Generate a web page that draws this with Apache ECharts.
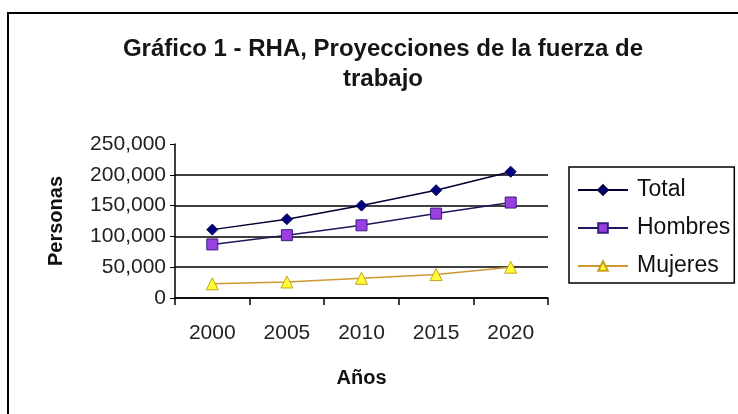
<!DOCTYPE html>
<html>
<head>
<meta charset="utf-8">
<script src="https://cdn.jsdelivr.net/npm/echarts@6/dist/echarts.min.js"></script>
<style>html,body{margin:0;padding:0;background:#fff}#c{width:738px;height:414px}</style>
</head>
<body>
<div id="c"></div>
<script>
const categories = ['2000', '2005', '2010', '2015', '2020'];
const total = [111000, 128000, 150000, 175000, 205000];
const hombres = [87000, 102000, 118000, 137000, 155000];
const mujeres = [23000, 26000, 32000, 38000, 50000];
const yTicks = [0, 50000, 100000, 150000, 200000, 250000];

const fontFam = '"Liberation Sans", Arial, sans-serif';
const chart = echarts.init(document.getElementById('c'));
chart.setOption({
  backgroundColor: '#fff',
  animation: false,
  graphic: [{
    type: 'rect', shape: {x: 8, y: 13, width: 740, height: 420},
    style: {fill: 'none', stroke: '#000', lineWidth: 2}, silent: true
  }],
  title: {
    text: 'Gráfico 1 - RHA, Proyecciones de la fuerza de\ntrabajo',
    left: 378, top: 29, textAlign: 'center',
    textStyle: {fontFamily: fontFam, fontWeight: 'bold', fontSize: 24, color: '#151515', lineHeight: 30}
  },
  legend: {
    orient: 'vertical', left: 569, top: 167,
    itemWidth: 50, itemHeight: 12, itemGap: 14,
    padding: [11, 4, 5, 8],
    borderColor: '#000', borderWidth: 1.5,
    textStyle: {fontFamily: fontFam, fontSize: 23, color: '#111', padding: [0, 0, 0, 4], lineHeight: 24},
    data: ['Total', 'Hombres', 'Mujeres']
  },
  grid: {left: 175, right: 190, top: 144, bottom: 116, containLabel: false},
  xAxis: {
    type: 'category', data: categories, boundaryGap: true,
    name: 'Años', nameLocation: 'middle', nameGap: 70,
    nameTextStyle: {fontFamily: fontFam, fontWeight: 'bold', fontSize: 20, color: '#111'},
    axisLine: {lineStyle: {color: '#000', width: 1.5}},
    axisTick: {show: true, length: 7, lineStyle: {color: '#000', width: 1.5}},
    axisLabel: {fontFamily: fontFam, fontSize: 21, color: '#222', margin: 25}
  },
  yAxis: {
    type: 'value', min: 0, max: 250000, interval: 50000,
    name: 'Personas', nameLocation: 'middle', nameGap: 109, nameRotate: 90,
    nameTextStyle: {fontFamily: fontFam, fontWeight: 'bold', fontSize: 20, color: '#111'},
    axisLine: {show: true, lineStyle: {color: '#000', width: 1.5}},
    axisTick: {show: true, length: 5, lineStyle: {color: '#000'}},
    axisLabel: {fontFamily: fontFam, fontSize: 21, color: '#222', margin: 9,
      formatter: v => yTicks.includes(v) ? v.toLocaleString('en-US') : ''},
    splitLine: {show: true, showMaxLine: false, lineStyle: {color: '#000', width: 1.5}}
  },
  series: [
    {name: 'Total', type: 'line', data: total, symbol: 'diamond', symbolSize: 11,
      lineStyle: {color: '#000033', width: 1.5},
      itemStyle: {color: '#000080', borderColor: '#000040', borderWidth: 1}},
    {name: 'Hombres', type: 'line', data: hombres, symbol: 'rect', symbolSize: 11,
      lineStyle: {color: '#1a1a5a', width: 1.5},
      itemStyle: {color: '#9a3fe0', borderColor: '#3a1a80', borderWidth: 1}},
    {name: 'Mujeres', type: 'line', data: mujeres, symbol: 'triangle', symbolSize: 12,
      lineStyle: {color: '#cc9933', width: 1.5},
      itemStyle: {color: '#ffff33', borderColor: '#c8a020', borderWidth: 1}}
  ]
});
</script>
</body>
</html>
